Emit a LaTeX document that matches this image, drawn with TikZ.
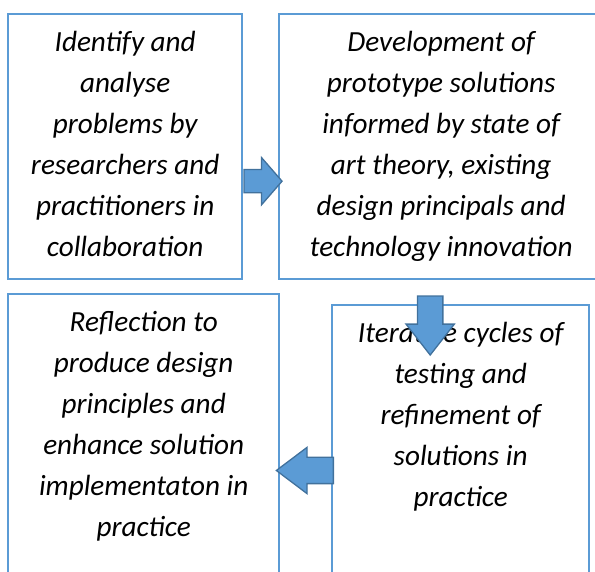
\documentclass[tikz,border=0pt]{standalone}
\usepackage{fontspec}
\setmainfont{Carlito}
\usepackage{tikz}
\usetikzlibrary{shapes.arrows, positioning, calc}
\definecolor{boxblue}{RGB}{91,155,213}
\definecolor{arrowfill}{RGB}{91,155,213}
\definecolor{arrowedge}{RGB}{65,113,156}
\tikzset{
  stage/.style={rectangle, draw=boxblue, line width=2.4pt, anchor=north west,
    inner sep=0pt},
  stagetext/.style={align=center, inner sep=0pt, anchor=north,
    font=\fontsize{29.2}{41}\selectfont\itshape},
  flowarrow/.style={single arrow, draw=arrowedge, fill=arrowfill,
    line width=1.3pt, inner xsep=0pt, line join=miter, anchor=tail}
}

\begin{document}
\begin{tikzpicture}[x=1pt, y=1pt]
  \useasboundingbox (0,0) rectangle (595,572);

  % the four stages
  \node[stage, minimum width=234pt, minimum height=265pt] (ident) at (7,559) {};
  \node[stage, minimum width=324pt, minimum height=265pt] (devel) at (278,559) {};
  \node[stage, minimum width=271pt, minimum height=300pt] (refl) at (7,279) {};
  \node[stage, minimum width=257pt, minimum height=300pt] (iter) at (331,268) {};

  \node[stagetext, below=18.5pt of ident.north] {Identify and\\analyse\\problems by\\researchers and\\practitioners in\\collaboration};
  \node[stagetext, below=18.5pt of devel.north] {Development of\\prototype solutions\\informed by state of\\art theory, existing\\design principals and\\technology innovation};
  \node[stagetext, below=18.5pt of refl.north] {Reflection to\\produce design\\principles and\\enhance solution\\implementaton in\\practice};
  \node[stagetext, below=18.5pt of iter.north] {Iterative cycles of\\testing and\\refinement of\\solutions in\\practice};

  % block arrows between stages
  \node[flowarrow, inner ysep=11pt, minimum height=38pt,
    single arrow head extend=12pt, single arrow tip angle=98]
    (a1) at ($(ident.east)+(0,-34.5)$) {};
  \node[flowarrow, inner ysep=12pt, minimum height=59pt, rotate=-90,
    single arrow head extend=11.5pt, single arrow tip angle=76]
    (a2) at ($(devel.south)+(-11,-15)$) {};
  \node[flowarrow, inner ysep=12.5pt, minimum height=57pt, rotate=180,
    single arrow head extend=10pt, single arrow tip angle=74]
    (a3) at ($(iter.north west)+(3,-166.5)$) {};
\end{tikzpicture}
\end{document}
